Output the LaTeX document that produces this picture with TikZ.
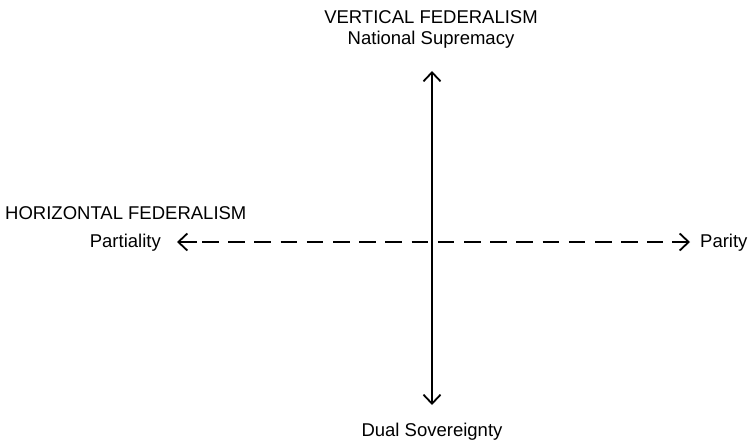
\documentclass[tikz,border=0pt]{standalone}
\usepackage{fontspec}
\setmainfont{Liberation Sans}
\usetikzlibrary{arrows.meta}
\begin{document}
\begin{tikzpicture}[x=1pt,y=-1pt,
  lbl/.style={inner sep=0pt,font=\fontsize{18.5}{22}\selectfont},
  head/.style={-{Straight Barb[length=9pt,width=17pt,line width=1.8pt]}},
  axis/.style={line width=1.8pt,{Straight Barb[length=9pt,width=17pt,line width=1.8pt]}-{Straight Barb[length=9pt,width=17pt,line width=1.8pt]}},
  shaft/.style={line width=1.6pt,head},
  daxis/.style={line width=1.1pt,dash pattern=on 16.5pt off 9.7pt}]
\useasboundingbox (0,0) rectangle (754,443);
\node[lbl] (vt) at (431,17) {VERTICAL FEDERALISM};
\node[lbl] (ns) at (431,40) {National Supremacy};
\node[lbl,anchor=west] (hf) at (5,213) {HORIZONTAL FEDERALISM};
\node[lbl,anchor=east] (pa) at (161,243) {Partiality};
\node[lbl,anchor=west] (pr) at (700,243) {Parity};
\node[lbl] (ds) at (432,432) {Dual Sovereignty};
\coordinate (top) at (432,71);
\coordinate (bot) at (432,405);
\coordinate (lft) at (177,242);
\coordinate (la) at (197,242);
\coordinate (ld) at (202,242);
\coordinate (rd) at (663,242);
\coordinate (ra) at (672,242);
\coordinate (rgt) at (690,242);
\draw[axis] (top) -- (bot);
\draw[shaft] (la) -- (lft);
\draw[shaft] (ra) -- (rgt);
\draw[daxis] (ld) -- (rd);
\end{tikzpicture}
\end{document}
